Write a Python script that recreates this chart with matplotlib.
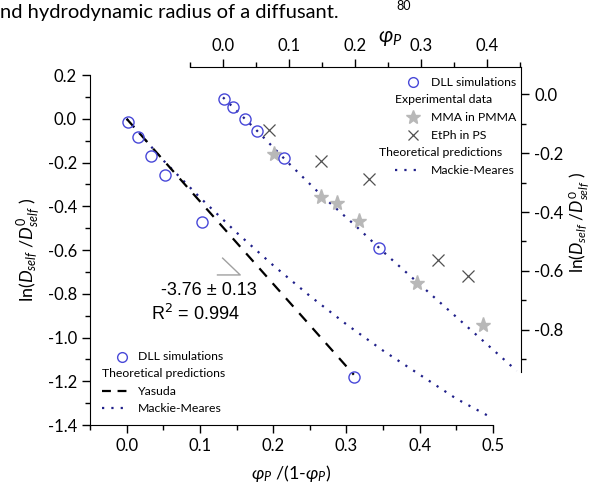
import matplotlib
matplotlib.use("Agg")
import matplotlib.pyplot as plt
from matplotlib.ticker import MultipleLocator

plt.rcParams['font.family'] = ['Lato', 'DejaVu Sans']
plt.rcParams['mathtext.fontset'] = 'custom'
plt.rcParams['mathtext.rm'] = 'Lato'
plt.rcParams['mathtext.it'] = 'Lato:italic'

# main panel, x = phi/(1-phi)
dll_x = [0.002, 0.016, 0.033, 0.053, 0.103, 0.310]
dll_y = [-0.016, -0.084, -0.172, -0.259, -0.474, -1.18]
yasuda_x = [0.0, 0.31]
yasuda_y = [0.0, -1.17]
mm_x = [0.0, 0.05, 0.10, 0.15, 0.20, 0.25, 0.30, 0.35, 0.40, 0.45, 0.50]
mm_y = [0.0, -0.19, -0.36, -0.52, -0.67, -0.81, -0.94, -1.06, -1.17, -1.28, -1.37]

# inset, x = phi
in_dll_x = [0.0015, 0.015, 0.033, 0.052, 0.092, 0.236]
in_dll_y = [-0.017, -0.044, -0.085, -0.125, -0.217, -0.522]
pmma_x = [0.078, 0.149, 0.172, 0.206, 0.294, 0.394]
pmma_y = [-0.204, -0.350, -0.370, -0.431, -0.640, -0.784]
etph_x = [0.069, 0.149, 0.221, 0.326, 0.371]
etph_y = [-0.122, -0.227, -0.286, -0.563, -0.617]
in_mm_x = [0.0, 0.05, 0.10, 0.15, 0.20, 0.25, 0.30, 0.35, 0.40, 0.445]
in_mm_y = [-0.01, -0.12, -0.235, -0.345, -0.445, -0.55, -0.65, -0.75, -0.85, -0.94]

blue = '#4848d8'
navy = '#20208a'
dots = (0, (1, 3.2))

fig = plt.figure(figsize=(5.94, 4.91), dpi=100)

# ---- main axes
ax = fig.add_axes([0.1515, 0.1344, 0.6785, 0.7128])
ax.plot(mm_x, mm_y, color=navy, linestyle=dots, lw=1.6)
ax.plot(yasuda_x, yasuda_y, color='black', linestyle=(0, (5, 4)), lw=1.6)
ax.plot(dll_x, dll_y, 'o', mfc='none', mec=blue, ms=8, mew=1.0)
ax.set_xlim(-0.05, 0.5)
ax.set_ylim(-1.4, 0.2)
ax.xaxis.set_major_locator(MultipleLocator(0.1))
ax.xaxis.set_minor_locator(MultipleLocator(0.05))
ax.yaxis.set_major_locator(MultipleLocator(0.2))
ax.yaxis.set_minor_locator(MultipleLocator(0.1))
ax.xaxis.set_major_formatter(lambda v, p: f'{v:.1f}')
ax.yaxis.set_major_formatter(lambda v, p: f'{v:.1f}')
ax.spines['top'].set_visible(False)
ax.spines['right'].set_visible(False)
ax.patch.set_alpha(0)
ax.tick_params(which='major', length=6, width=1, labelsize=12, direction='out')
ax.tick_params(which='minor', length=3.5, width=1, direction='out')
ax.set_xlabel(r'$\varphi_P$ /(1-$\varphi_P$)', fontsize=13, labelpad=6)
ax.set_ylabel(r'ln($D_{self}$ /$D^{0}_{self}$ )', fontsize=13, labelpad=4)

ax.text(0.178, -0.786, '-3.76 \u00b1 0.13', family='Liberation Sans',
        fontsize=13, ha='right', va='center')
ax.text(0.155, -0.89, 'R$^2$ = 0.994', family='Liberation Sans',
        fontsize=13, ha='right', va='center', math_fontfamily='dejavusans')
# little slope triangle next to the fit value
ax.plot([0.124, 0.155, 0.131], [-0.714, -0.714, -0.637], color='#a0a0a0', lw=1)

# main legend
leg_rows = [('o', 'DLL simulations'), (None, 'Theoretical predictions'),
            ('--', 'Yasuda'), (':', 'Mackie-Meares')]
lx, ly, dy = 0.03, 0.195, 0.049
for i, (kind, lab) in enumerate(leg_rows):
    yy = ly - i * dy
    if kind is None:
        ax.text(lx, yy, lab, transform=ax.transAxes, fontsize=8.8, va='center')
        continue
    if kind == 'o':
        ax.plot([lx + 0.05], [yy], 'o', mfc='none', mec=blue, ms=7, mew=1.0,
                transform=ax.transAxes)
    elif kind == '--':
        ax.plot([lx, lx + 0.07], [yy, yy], color='black', lw=1.6,
                linestyle=(0, (4, 3)), transform=ax.transAxes)
    else:
        ax.plot([lx, lx + 0.07], [yy, yy], color=navy, lw=1.6,
                linestyle=dots, transform=ax.transAxes)
    ax.text(lx + 0.09, yy, lab, transform=ax.transAxes, fontsize=8.8, va='center')

# ---- inset axes
ins = fig.add_axes([0.3199, 0.2424, 0.5572, 0.6212])
ins.patch.set_alpha(0)
ins.plot(in_mm_x, in_mm_y, color=navy, linestyle=dots, lw=1.6)
ins.plot(pmma_x, pmma_y, '*', color='#b8b8b8', ms=11, mec='#b8b8b8')
ins.plot(etph_x, etph_y, 'x', color='#505050', ms=8, mew=0.9)
ins.plot(in_dll_x, in_dll_y, 'o', mfc='none', mec=blue, ms=8, mew=1.0)
ins.set_xlim(-0.05, 0.4515)
ins.set_ylim(-0.944, 0.0935)
ins.xaxis.tick_top()
ins.xaxis.set_label_position('top')
ins.yaxis.tick_right()
ins.yaxis.set_label_position('right')
ins.spines['left'].set_visible(False)
ins.spines['bottom'].set_visible(False)
ins.xaxis.set_major_locator(MultipleLocator(0.1))
ins.xaxis.set_minor_locator(MultipleLocator(0.05))
ins.yaxis.set_major_locator(MultipleLocator(0.2))
ins.yaxis.set_minor_locator(MultipleLocator(0.1))
ins.xaxis.set_major_formatter(lambda v, p: f'{v:.1f}')
ins.yaxis.set_major_formatter(lambda v, p: f'{v:.1f}')
ins.tick_params(which='major', length=6, width=1, labelsize=12, direction='out')
ins.tick_params(which='minor', length=3.5, width=1, direction='out')
ins.set_xlabel(r'$\varphi_P$', fontsize=15)
ins.xaxis.set_label_coords(0.604, 1.082)
ins.set_ylabel(r'ln($D_{self}$ /$D^{0}_{self}$ )', fontsize=12.5)
ins.yaxis.set_label_coords(1.135, 0.49)

in_rows = [('o', 'DLL simulations'), (None, 'Experimental data'),
           ('*', 'MMA in PMMA'), ('x', 'EtPh in PS'),
           (None, 'Theoretical predictions'), (':', 'Mackie-Meares')]
iy, idy = 0.95, 0.0577
for i, (kind, lab) in enumerate(in_rows):
    yy = iy - i * idy
    if kind is None:
        x0 = 0.62 if lab.startswith('Exp') else 0.572
        ins.text(x0, yy, lab, transform=ins.transAxes, fontsize=8.8, va='center')
        continue
    if kind == 'o':
        ins.plot([0.675], [yy], 'o', mfc='none', mec=blue, ms=7, mew=1.0,
                 transform=ins.transAxes)
    elif kind == '*':
        ins.plot([0.675], [yy], '*', color='#b8b8b8', ms=10, transform=ins.transAxes)
    elif kind == 'x':
        ins.plot([0.675], [yy], 'x', color='#505050', ms=7, mew=0.9,
                 transform=ins.transAxes)
    else:
        ins.plot([0.62, 0.7], [yy, yy], color=navy, lw=1.6,
                 linestyle=dots, transform=ins.transAxes)
    ins.text(0.727, yy, lab, transform=ins.transAxes, fontsize=8.8, va='center')

# page text cut at the top of the figure
fig.text(0.0, 1 - 18 / 491, 'nd hydrodynamic radius of a diffusant.',
         fontsize=14.5, va='baseline')
fig.text(396 / 594, 1 - 10 / 491, '80', fontsize=9, va='baseline')

fig.savefig('out.png', dpi=100)
